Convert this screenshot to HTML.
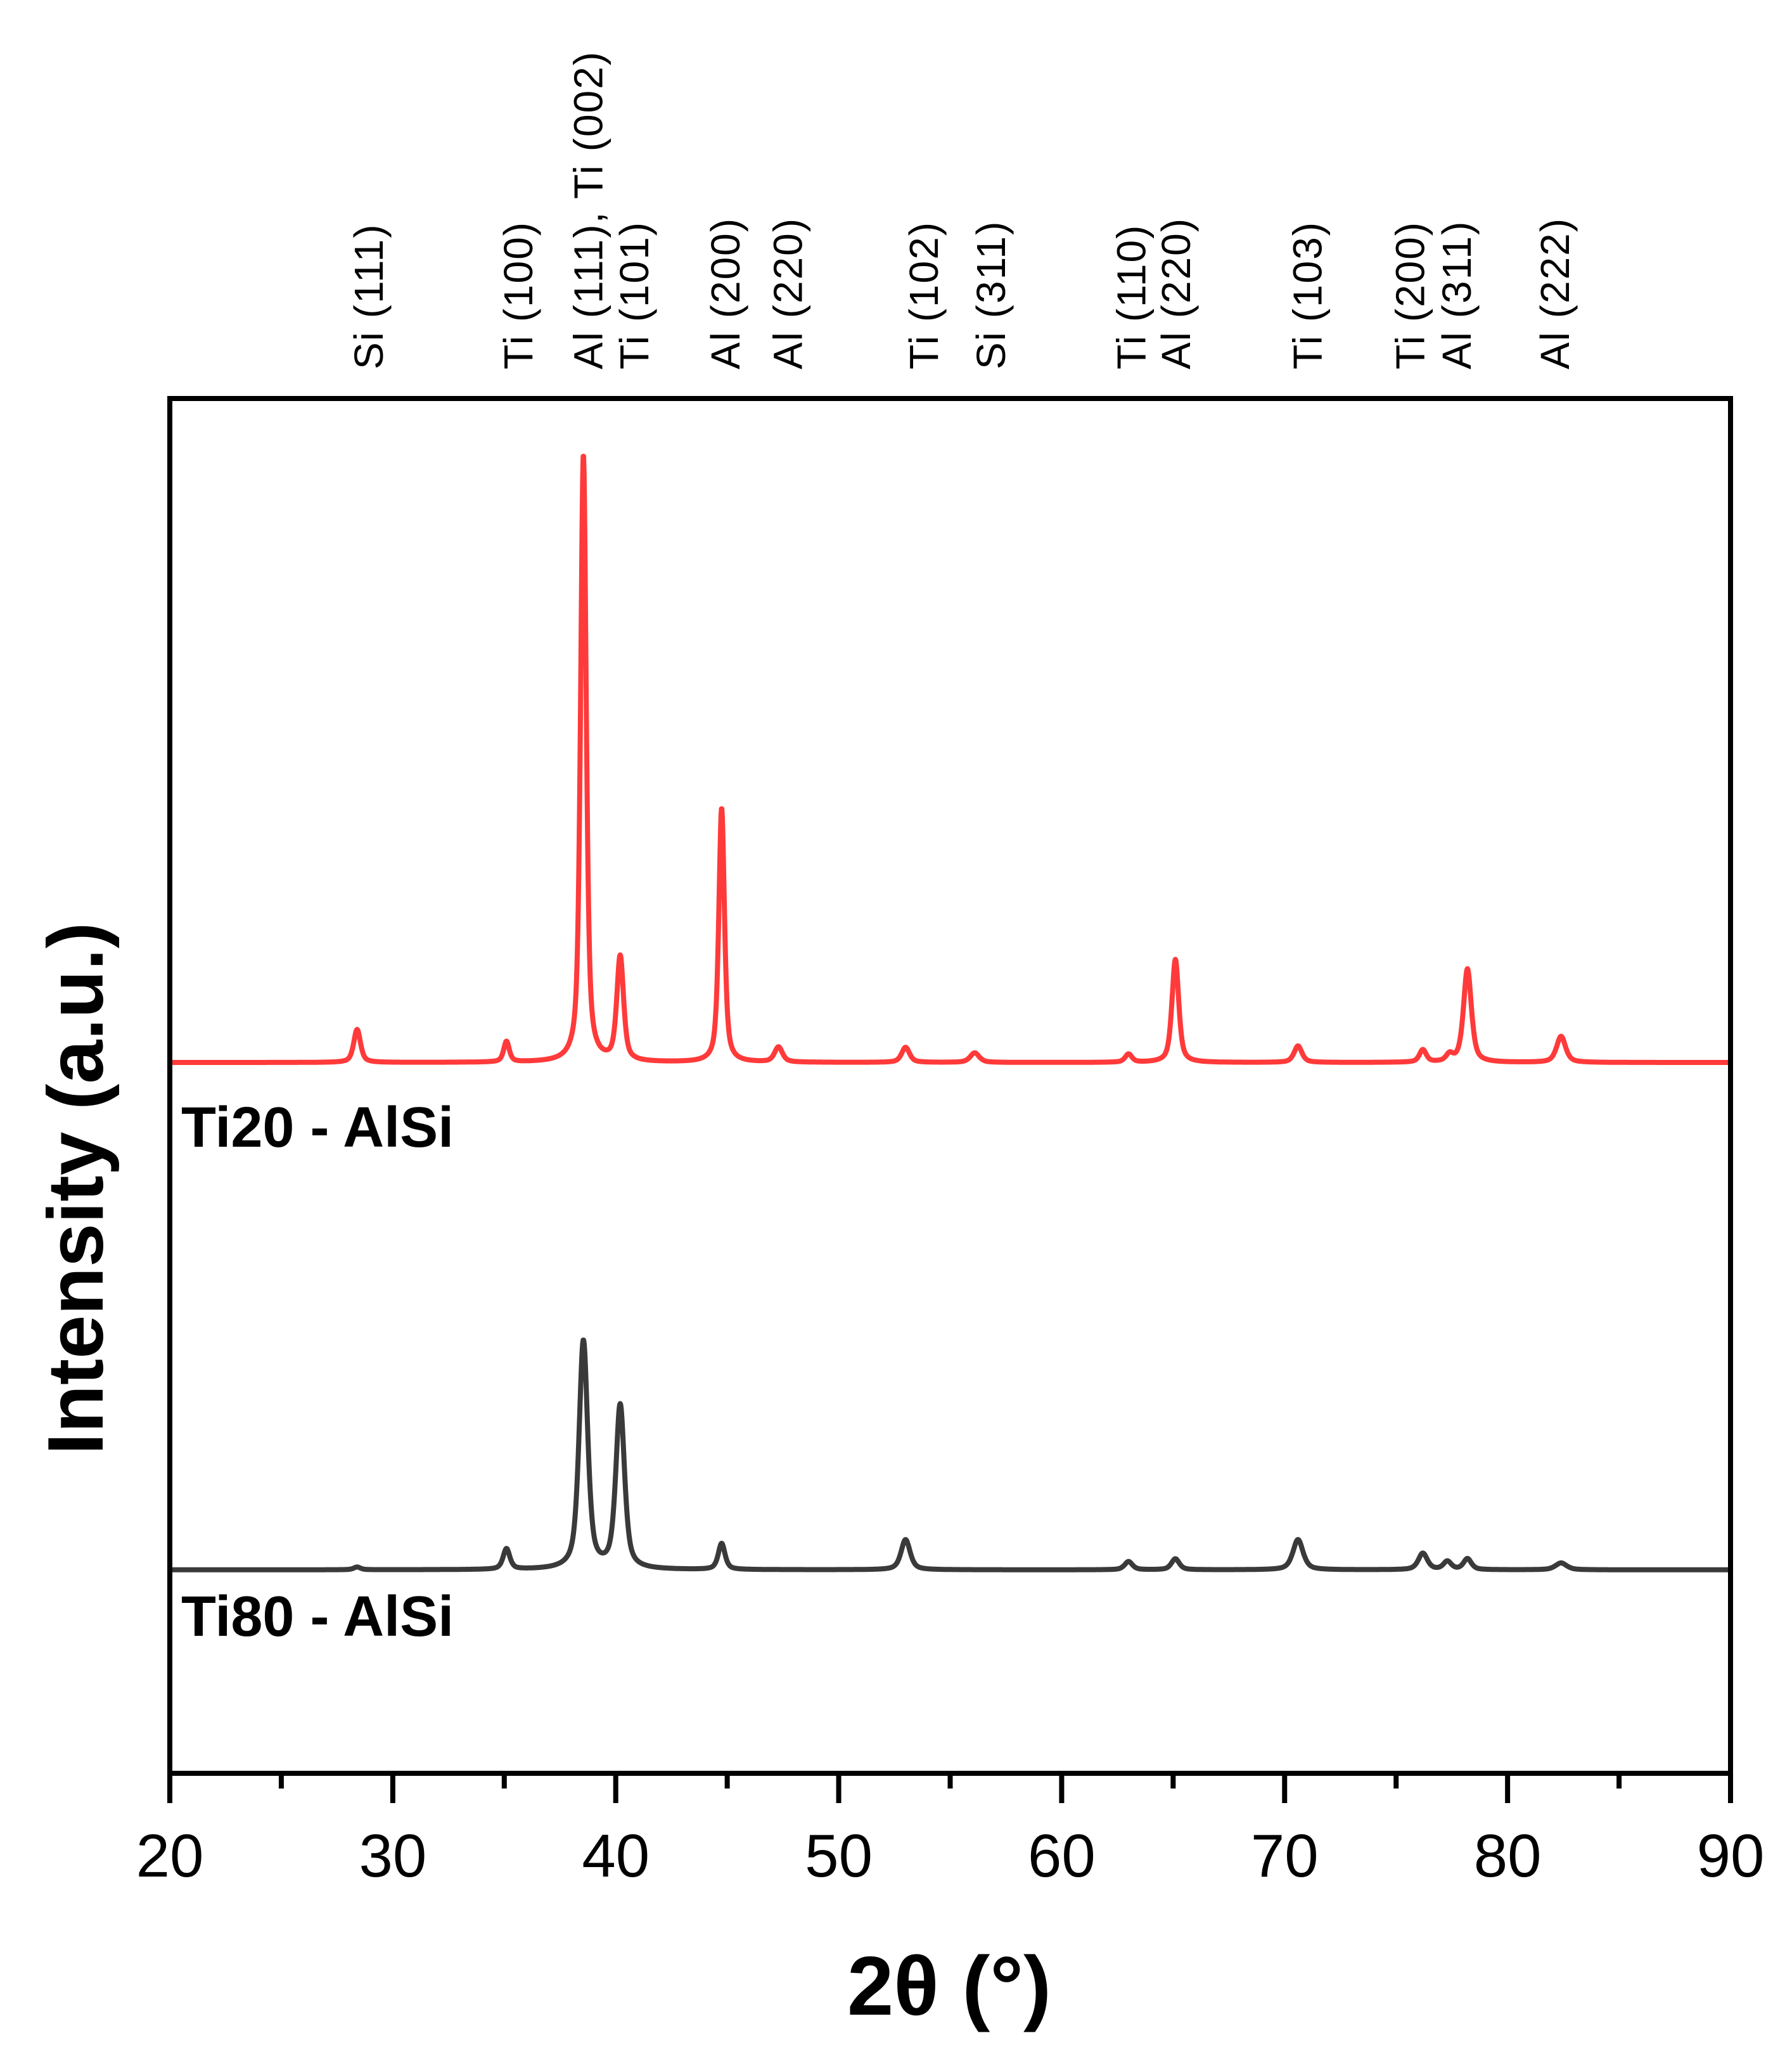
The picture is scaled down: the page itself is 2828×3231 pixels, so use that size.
<!DOCTYPE html>
<html><head><meta charset="utf-8"><style>
html,body{margin:0;padding:0;background:#fff}
svg{display:block}
</style></head><body>
<svg id="chart" width="2828" height="3231" viewBox="0 0 2828 3231" xmlns="http://www.w3.org/2000/svg">
<rect width="2828" height="3231" fill="#fff"/>
<g id="series"></g>
<g id="labels"></g>
<g id="axes"></g>
</svg>
<script>
// ---- data ----
const xTicks = [20,30,40,50,60,70,80,90];
const xMinor = [25,35,45,55,65,75,85];
const redBase = 51.7;
const redPos = [28.4,35.1,38.55,40.2,44.75,47.3,53.0,56.1,63.0,65.1,70.6,76.2,77.4,78.2,82.4];
const redHeight = [2.4,1.5,44.2,7.6,18.5,1.1,1.1,0.7,0.6,7.5,1.2,0.9,0.5,6.8,1.9];
const redWidth = [0.36,0.3,0.3,0.36,0.3,0.42,0.42,0.48,0.36,0.36,0.42,0.36,0.36,0.42,0.48];
const blkBase = 14.8;
const blkPos = [28.4,35.1,38.55,40.2,44.75,53.0,63.0,65.1,70.6,76.2,77.3,78.2,82.4];
const blkHeight = [0.2,1.5,16.6,11.9,1.9,2.2,0.6,0.8,2.2,1.2,0.6,0.8,0.5];
const blkWidth = [0.36,0.36,0.46,0.46,0.36,0.48,0.42,0.42,0.54,0.48,0.42,0.42,0.6];
const peakLabels = ["Si (111)","Ti (100)","Al (111), Ti (002)","Ti (101)","Al (200)","Al (220)","Ti (102)","Si (311)","Ti (110)","Al (220)","Ti (103)","Ti (200)","Al (311)","Al (222)"];
const peakLabelX = [28.7,35.4,38.55,40.6,44.7,47.5,53.6,56.6,62.9,64.9,70.8,75.4,77.5,81.9];

// ---- scales ----
const L=268,R=2731,T=629,B=2799;
const xs = v => L + (v-20)/70*(R-L);
const ys = v => B - v/100*(B-T);
const NS="http://www.w3.org/2000/svg";
function mk(tag, attrs, parent){const e=document.createElementNS(NS,tag);for(const k in attrs)e.setAttribute(k,attrs[k]);parent.appendChild(e);return e;}
const series=document.getElementById('series'), labels=document.getElementById('labels'), axes=document.getElementById('axes');

function profile(x,pos,h,w){let s=0;for(let i=0;i<pos.length;i++){const d=(x-pos[i])/(w[i]/2);s+=h[i]*(0.6/(1+d*d)+0.4*Math.exp(-0.693*d*d));}return s;}
function drawSeries(base,pos,h,w,color,name){
  let d='';
  for(let x=20;x<=90.0001;x+=0.02){d+=(d?'L':'M')+xs(x).toFixed(1)+' '+ys(base+profile(x,pos,h,w)).toFixed(1);}
  const p=mk('path',{d:d,fill:'none',stroke:color,'stroke-width':8,'stroke-linejoin':'round'},series);
  
  
}
drawSeries(redBase,redPos,redHeight,redWidth,'#ff3a3a','ti20-alsi-line');
drawSeries(blkBase,blkPos,blkHeight,blkWidth,'#3a3a3a','ti80-alsi-line');

// peak labels
peakLabels.forEach((t,i)=>{
  const x=xs(peakLabelX[i])+30, y=583;
  const e=mk('text',{x:0,y:0,transform:`translate(${x},${y}) rotate(-90)`,'font-family':'"Liberation Sans",sans-serif','font-size':64,'letter-spacing':2,fill:'#000'},labels);
  e.textContent=t;
  
  
});

// frame
const fr=mk('rect',{x:L,y:T,width:R-L,height:B-T,fill:'none',stroke:'#000','stroke-width':8},axes);


xTicks.forEach(v=>{
  const t=mk('line',{x1:xs(v),x2:xs(v),y1:B,y2:B+47,stroke:'#000','stroke-width':8},axes);
  
  
  const l=mk('text',{x:xs(v),y:2962,'text-anchor':'middle','font-family':'"Liberation Sans",sans-serif','font-size':96,fill:'#000'},axes);
  l.textContent=v;
  
  
});
xMinor.forEach(v=>{
  const t=mk('line',{x1:xs(v),x2:xs(v),y1:B,y2:B+24,stroke:'#000','stroke-width':8},axes);
  
  
});
</script>
<svg style="position:absolute;left:0;top:0" width="2828" height="3231">
<text x="1498" y="3180" text-anchor="middle" font-family="Liberation Sans, sans-serif" font-weight="bold" font-size="132">2θ (°)</text>
<text transform="translate(162,1876) rotate(-90)" text-anchor="middle" font-family="Liberation Sans, sans-serif" font-weight="bold" font-size="124">Intensity (a.u.)</text>
<text x="286" y="1810" font-family="Liberation Sans, sans-serif" font-weight="bold" font-size="90">Ti20 - AlSi</text>
<text x="286" y="2582" font-family="Liberation Sans, sans-serif" font-weight="bold" font-size="90">Ti80 - AlSi</text>
</svg>
</body></html>
